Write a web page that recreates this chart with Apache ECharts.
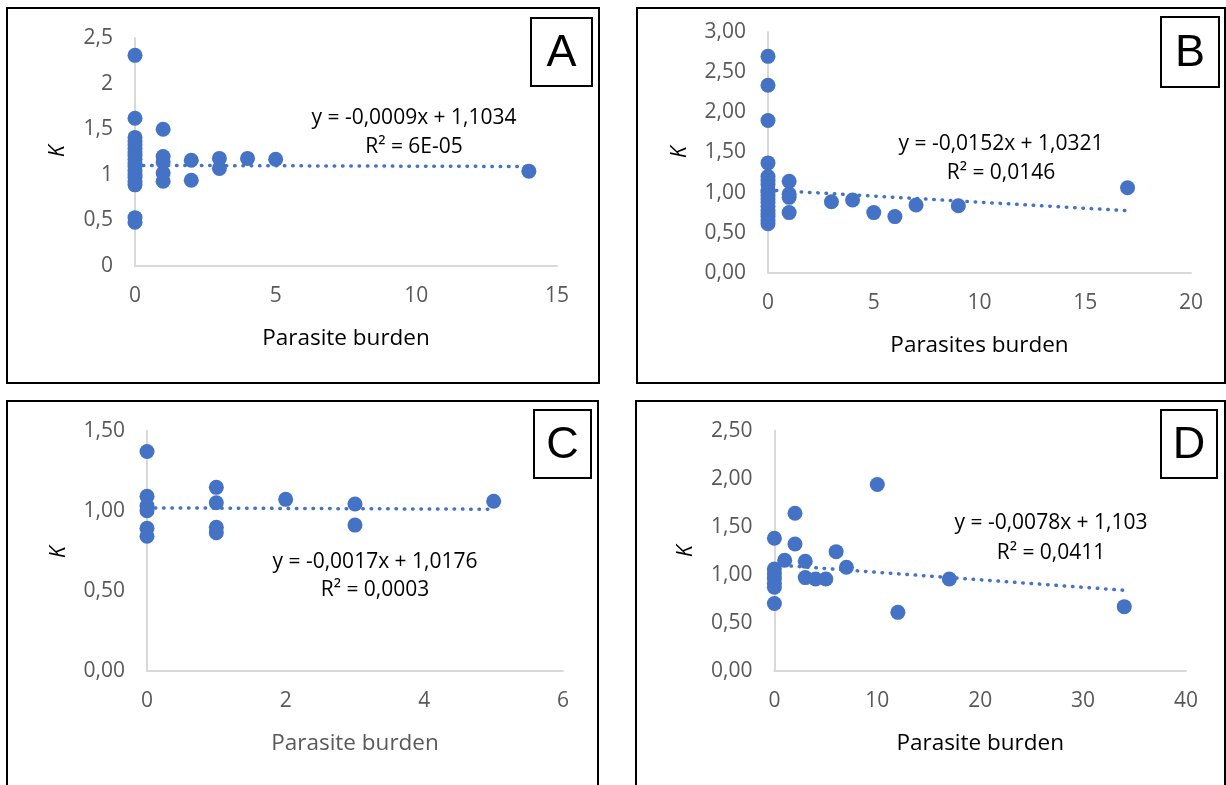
<!DOCTYPE html>
<html>
<head>
<meta charset="utf-8">
<script src="https://cdn.jsdelivr.net/npm/echarts@6/dist/echarts.min.js"></script>
<style>
html,body{margin:0;padding:0;background:#fff;}
#chart{width:1226px;height:785px;}
</style>
</head>
<body>
<div id="chart"></div>
<script>
// ---- Panel A ----
var xA = [0,0,0,0,0,0,0,0,0,0,0,0,0,0,0,0,0,0, 1,1,1,1,1, 2,2, 3,3, 4, 5, 14];
var yA = [2.31,1.62,1.41,1.37,1.33,1.29,1.25,1.21,1.17,1.13,1.09,1.05,1.01,0.97,0.93,0.89,0.53,0.48,
          1.50,1.20,1.14,1.02,0.93, 1.16,0.94, 1.18,1.07, 1.18, 1.17, 1.04];
var trendA = [[0,1.1034],[14,1.0908]];
var yTicksA = ['0','0,5','1','1,5','2','2,5'];
var xTicksA = ['0','5','10','15'];

// ---- Panel B ----
var xB = [0,0,0,0,0,0,0,0,0,0,0,0,0,0,0,0,0,0, 1,1,1,1, 3, 4, 5, 6, 7, 9, 17];
var yB = [2.70,2.34,1.90,1.37,1.20,1.15,1.10,1.03,1.00,0.96,0.92,0.88,0.83,0.78,0.74,0.70,0.65,0.61,
          1.14,0.98,0.94,0.75, 0.886, 0.907, 0.75, 0.70, 0.845, 0.836, 1.06];
var trendB = [[0,1.0321],[17,0.7737]];
var yTicksB = ['0,00','0,50','1,00','1,50','2,00','2,50','3,00'];
var xTicksB = ['0','5','10','15','20'];

// ---- Panel C ----
var xC = [0,0,0,0,0,0, 1,1,1,1, 2, 3,3, 5];
var yC = [1.37,1.09,1.03,1.00,0.89,0.84, 1.146,1.05,0.896,0.862, 1.071, 1.042,0.91, 1.059];
var trendC = [[0,1.0176],[5,1.0091]];
var yTicksC = ['0,00','0,50','1,00','1,50'];
var xTicksC = ['0','2','4','6'];

// ---- Panel D ----
var xD = [0,0,0,0,0,0,0, 1, 2,2, 3,3, 4, 5, 6, 7, 10, 12, 17, 34];
var yD = [1.38,1.06,1.01,0.96,0.91,0.87,0.70, 1.15, 1.64,1.32, 1.14,0.97, 0.955, 0.955, 1.24, 1.077, 1.94, 0.608, 0.955, 0.667];
var trendD = [[0,1.103],[34,0.8378]];
var yTicksD = ['0,00','0,50','1,00','1,50','2,00','2,50'];
var xTicksD = ['0','10','20','30','40'];

var panels = [
  {x:xA, y:yA, trend:trendA, yt:yTicksA, xt:xTicksA, xmax:15, xint:5, ymax:2.5, name:'Parasite burden', nameColor:'#000',
   grid:{left:135, top:38, right:1226-557, bottom:785-266},
   frame:[7,8,592,375], box:[531,18,61,68], letter:'A',
   eq1:'y = -0,0009x + 1,1034', eq2:'R² = 6E-05', eqPos:[414,118,147], kPos:[58,151]},
  {x:xB, y:yB, trend:trendB, yt:yTicksB, xt:xTicksB, xmax:20, xint:5, ymax:3, name:'Parasites burden', nameColor:'#000',
   grid:{left:768, top:32.3, right:1226-1191, bottom:785-272.7},
   frame:[637,8,588,375], box:[1161,17,58,70], letter:'B',
   eq1:'y = -0,0152x + 1,0321', eq2:'R² = 0,0146', eqPos:[1001,144,173], kPos:[680,152]},
  {x:xC, y:yC, trend:trendC, yt:yTicksC, xt:xTicksC, xmax:6, xint:2, ymax:1.5, name:'Parasite burden', nameColor:'#595959',
   grid:{left:147, top:430.7, right:1226-563, bottom:785-670.7},
   frame:[7,401,591,400], box:[534,410,57,68], letter:'C',
   eq1:'y = -0,0017x + 1,0176', eq2:'R² = 0,0003', eqPos:[375,562,590], kPos:[59,552]},
  {x:xD, y:yD, trend:trendD, yt:yTicksD, xt:xTicksD, xmax:40, xint:10, ymax:2.5, name:'Parasite burden', nameColor:'#000',
   grid:{left:774.4, top:430.7, right:1226-1186, bottom:785-670.7},
   frame:[636,401,589,400], box:[1161,410,56,68], letter:'D',
   eq1:'y = -0,0078x + 1,103', eq2:'R² = 0,0411', eqPos:[1051,523,553], kPos:[686,551]}
];

var FONT = '"Open Sans", "Liberation Sans", sans-serif';
var BLUE = '#4472C4';
var grids = [], xAxes = [], yAxes = [], series = [], graphics = [];

panels.forEach(function(p, i){
  grids.push(p.grid);
  xAxes.push({
    type:'value', gridIndex:i, min:0, max:p.xmax, interval:p.xint,
    name:p.name, nameLocation:'middle', nameGap:61,
    nameTextStyle:{fontFamily:FONT, fontSize:22.5, color:p.nameColor},
    axisLine:{show:true, onZero:false, lineStyle:{color:'#D9D9D9', width:2}},
    axisTick:{show:false}, splitLine:{show:false},
    axisLabel:{fontFamily:FONT, fontSize:21, color:'#595959', margin:20,
      formatter:(function(t){return function(v, idx){return t[idx] !== undefined ? t[idx] : '';};})(p.xt)}
  });
  yAxes.push({
    type:'value', gridIndex:i, min:0, max:p.ymax, interval:0.5,
    axisLine:{show:true, onZero:false, lineStyle:{color:'#D9D9D9', width:2}},
    axisTick:{show:false}, splitLine:{show:false},
    axisLabel:{fontFamily:FONT, fontSize:21, color:'#595959', margin:22,
      formatter:(function(t){return function(v, idx){return t[idx] !== undefined ? t[idx] : '';};})(p.yt)}
  });
  series.push({
    type:'line', xAxisIndex:i, yAxisIndex:i, data:p.trend, showSymbol:false, symbol:'none',
    silent:true, z:2,
    lineStyle:{color:BLUE, width:3.5, type:[0.5,7.8], cap:'round'}
  });
  var pts = p.x.map(function(xv, k){ return [xv, p.y[k]]; });
  series.push({
    type:'scatter', xAxisIndex:i, yAxisIndex:i, data:pts, symbol:'circle', symbolSize:15,
    z:3, itemStyle:{color:BLUE, opacity:1}
  });
  graphics.push({type:'rect', shape:{x:p.frame[0], y:p.frame[1], width:p.frame[2], height:p.frame[3]},
    style:{fill:'none', stroke:'#000', lineWidth:2}, silent:true, z:100});
  graphics.push({type:'rect', shape:{x:p.box[0], y:p.box[1], width:p.box[2], height:p.box[3]},
    style:{fill:'#fff', stroke:'#000', lineWidth:2}, silent:true, z:100});
  graphics.push({type:'text', x:p.box[0]+p.box[2]/2, y:p.box[1]+p.box[3]/2+2,
    style:{text:p.letter, font:'45px "Liberation Sans", Arial, sans-serif', fill:'#000', textAlign:'center', textVerticalAlign:'middle'}, z:101});
  graphics.push({type:'text', x:p.eqPos[0], y:p.eqPos[1],
    style:{text:p.eq1, font:'21px ' + FONT, fill:'#000', textAlign:'center', textVerticalAlign:'middle'}, z:101});
  graphics.push({type:'text', x:p.eqPos[0], y:p.eqPos[2],
    style:{text:p.eq2, font:'21px ' + FONT, fill:'#000', textAlign:'center', textVerticalAlign:'middle'}, z:101});
  graphics.push({type:'text', x:p.kPos[0], y:p.kPos[1], rotation:Math.PI/2,
    style:{text:'K', font:'italic 21px ' + FONT, fill:'#000', textAlign:'center', textVerticalAlign:'middle'}, z:101});
});

var chart = echarts.init(document.getElementById('chart'), null, {renderer:'canvas'});
chart.setOption({
  animation:false,
  backgroundColor:'#fff',
  grid:grids, xAxis:xAxes, yAxis:yAxes, series:series,
  graphic:{elements:graphics}
});
</script>
</body>
</html>
